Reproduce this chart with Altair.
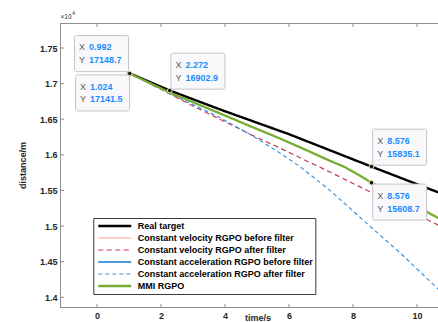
import altair as alt
import pandas as pd

# ---------------- data ----------------
series_names = [
    "Real target",
    "Constant velocity RGPO before filter",
    "Constant velocity RGPO after filter",
    "Constant acceleration RGPO before filter",
    "Constant acceleration RGPO after filter",
    "MMI RGPO",
]

real_t = [1.0, 2.272, 4.0, 6.0, 8.576, 11.0]
real_v = [17148.7, 16902.9, 16612, 16290, 15835.1, 15415]

cv_after_t = [1.0, 2.0, 2.906, 3.84, 4.78, 5.72, 6.5, 7.28, 8.22, 8.576, 9.5, 10.25, 11.0]
cv_after_v = [17148.7, 16920, 16707, 16500, 16290, 16095, 15925, 15760, 15550, 15472, 15270, 15105, 14940]

ca_after_t = [1.0, 2.28, 2.906, 3.84, 4.78, 5.72, 6.34, 7.28, 8.22, 8.59, 9.47, 10.625, 11.0]
ca_after_v = [17148.7, 16859, 16725, 16523, 16289, 16025, 15836, 15501, 15124, 14974, 14625, 14131, 13965]

mmi_t = [1.024, 2.272, 2.906, 3.84, 4.78, 5.72, 6.5, 7.28, 7.7, 8.22, 8.576, 9.5, 10.25, 11.0]
mmi_v = [17141.5, 16875, 16757, 16582, 16404, 16229, 16075, 15916, 15838, 15708, 15608.7, 15393, 15215, 15030]

x_ticks = [0, 2, 4, 6, 8, 10]
y_ticks = [14000, 14500, 15000, 15500, 16000, 16500, 17000, 17500]

tip_t = [0.992, 1.024, 2.272, 8.576, 8.576]
tip_v = [17148.7, 17141.5, 16902.9, 15835.1, 15608.7]

# ---------------- styling ----------------
colors = ["#000000", "#F2A48A", "#C23A4E", "#4A9BDD", "#3F93DB", "#77AC30"]
dashes = [[1, 0], [1, 0], [5, 3.5], [1, 0], [4, 3], [1, 0]]
widths = [2.4, 1.1, 1.2, 1.8, 1.2, 2.3]

FONT = "Liberation Sans"
W, H = 378, 284
AXC = "#8e8e8e"
TXT = "#262626"

rows = []
for name, ts, vs in [
    (series_names[0], real_t, real_v),
    (series_names[2], cv_after_t, cv_after_v),
    (series_names[4], ca_after_t, ca_after_v),
    (series_names[5], mmi_t, mmi_v),
]:
    for t, v in zip(ts, vs):
        rows.append({"series": name, "t": t, "v": v})
df_lines = pd.DataFrame(rows)

x_scale = alt.Scale(domain=[-1.156, 10.656], nice=False, zero=False)
y_scale = alt.Scale(domain=[13864, 17851], nice=False, zero=False)

x_axis = alt.Axis(
    values=x_ticks, domain=False, ticks=False, grid=False,
    labelFont=FONT, labelFontSize=9, labelFontWeight="bold", labelColor=TXT,
    labelPadding=4.5, title="time/s", titleFont=FONT, titleFontSize=9,
    titleFontWeight="bold", titleColor=TXT, titleX=197.5, titleY=10,
    titleBaseline="middle", titleAlign="center")
y_axis = alt.Axis(
    values=y_ticks, labelExpr="format(datum.value / 10000, '~g')",
    domain=False, ticks=False, grid=False,
    labelFont=FONT, labelFontSize=9, labelFontWeight="bold", labelColor=TXT,
    labelPadding=3, title="distance/m", titleFont=FONT, titleFontSize=9,
    titleFontWeight="bold", titleColor=TXT, titleX=-33, titleY=142,
    titleAngle=270, titleBaseline="bottom", titleAlign="center")

def X():
    return alt.X("t:Q", scale=x_scale, axis=x_axis, title="time/s")

def Y():
    return alt.Y("v:Q", scale=y_scale, axis=y_axis, title="distance/m")

legend = alt.Legend(
    title=None, orient="none", legendX=33.3, legendY=195, direction="vertical",
    fillColor="white", strokeColor="#3a3a3a", padding=2,
    symbolType="stroke", symbolSize=1089, symbolOffset=1.5, labelOffset=5,
    labelFont=FONT, labelFontSize=9, labelFontWeight="bold", labelColor="#000000",
    labelLimit=400, clipHeight=12, rowPadding=0, cornerRadius=0,
)

lines = alt.Chart(df_lines).mark_line(clip=True).encode(
    x=X(), y=Y(),
    color=alt.Color("series:N", scale=alt.Scale(type="ordinal", domain=series_names, range=colors), legend=legend),
    strokeDash=alt.StrokeDash("series:N", scale=alt.Scale(type="ordinal", domain=series_names, range=dashes), legend=legend),
    strokeWidth=alt.StrokeWidth("series:N", scale=alt.Scale(type="ordinal", domain=series_names, range=widths), legend=legend),
)

one = pd.DataFrame({"k": [0]})
frame_left = alt.Chart(one).mark_rule(color=AXC, strokeWidth=1).encode(
    x=alt.value(0.5), y=alt.value(0), y2=alt.value(H + 0.5))
frame_top = alt.Chart(one).mark_rule(color=AXC, strokeWidth=1).encode(
    x=alt.value(0), x2=alt.value(W), y=alt.value(0.5))
frame_bottom = alt.Chart(one).mark_rule(color=AXC, strokeWidth=1).encode(
    x=alt.value(0), x2=alt.value(W), y=alt.value(H + 0.5))

xt = pd.DataFrame({"t": x_ticks})
yt = pd.DataFrame({"v": y_ticks})
ticks_bottom = alt.Chart(xt).mark_rule(color=AXC, strokeWidth=1).encode(
    x=X(), y=alt.value(H + 0.5), y2=alt.value(H - 3))
ticks_top = alt.Chart(xt).mark_rule(color=AXC, strokeWidth=1).encode(
    x=X(), y=alt.value(0.5), y2=alt.value(4))
ticks_left = alt.Chart(yt).mark_rule(color=AXC, strokeWidth=1).encode(
    y=Y(), x=alt.value(0.5), x2=alt.value(4))

exp_base = alt.Chart(pd.DataFrame({"s": ["\u00d710"]})).mark_text(
    font=FONT, fontSize=6.5, color=TXT, align="left", baseline="middle").encode(
    text="s:N", x=alt.value(0.5), y=alt.value(-6.3))
exp_pow = alt.Chart(pd.DataFrame({"s": ["4"]})).mark_text(
    font=FONT, fontSize=5, color=TXT, align="left", baseline="middle").encode(
    text="s:N", x=alt.value(12.2), y=alt.value(-10))

BOX = ("M-1.4,-1H1.4A0.1,0.1 0 0 1 1.5,-0.9V0.9A0.1,0.1 0 0 1 1.4,1"
       "H-1.4A0.1,0.1 0 0 1 -1.5,0.9V-0.9A0.1,0.1 0 0 1 -1.4,-1Z")
tip_dir = [(-1, -1), (-1, 1), (1, -1), (1, -1), (1, 1)]

tip_layers = []
marker_layers = []
for i in range(len(tip_t)):
    d = pd.DataFrame({"t": [tip_t[i]], "v": [tip_v[i]]})
    sx, sy = tip_dir[i]
    dx = -27.2 if sx < 0 else 28.2
    dy = 19.4 * sy
    box = alt.Chart(d).mark_point(
        shape=BOX, size=1296, filled=True, fill="#f9f9fc", stroke="#c3c3cb",
        strokeWidth=1, opacity=1, fillOpacity=1, xOffset=dx, yOffset=dy).encode(x=X(), y=Y())
    left = dx - 27 + 4.5
    val = dx - 27 + 14.5
    lx = alt.Chart(d).mark_text(font=FONT, fontSize=9, color="#5a5a5a", align="left",
                                baseline="middle", xOffset=left, yOffset=dy - 6.4, text="X").encode(x=X(), y=Y())
    ly = alt.Chart(d).mark_text(font=FONT, fontSize=9, color="#5a5a5a", align="left",
                                baseline="middle", xOffset=left, yOffset=dy + 6.4, text="Y").encode(x=X(), y=Y())
    vx = alt.Chart(d).mark_text(font=FONT, fontSize=9, fontWeight="bold", color="#1a8cff",
                                align="left", baseline="middle", xOffset=val,
                                yOffset=dy - 6.4).encode(text=alt.Text("t:Q", format=".3f"), x=X(), y=Y())
    vy = alt.Chart(d).mark_text(font=FONT, fontSize=9, fontWeight="bold", color="#1a8cff",
                                align="left", baseline="middle", xOffset=val,
                                yOffset=dy + 6.4).encode(text=alt.Text("v:Q", format=".1f"), x=X(), y=Y())
    tip_layers += [box, lx, ly, vx, vy]
    marker_layers.append(alt.Chart(d).mark_point(
        shape="circle", size=22, filled=True, fill="#1a1a1a", stroke="#eeeebb",
        strokeWidth=1, opacity=1).encode(x=X(), y=Y()))

chart = alt.layer(
    lines, frame_left, frame_top, frame_bottom, ticks_bottom, ticks_top, ticks_left,
    exp_base, exp_pow, *marker_layers, *tip_layers,
).properties(
    width=W, height=H,
    autosize=alt.AutoSizeParams(type="none"),
    padding={"left": 60, "top": 23, "right": 0, "bottom": 15},
).configure_view(stroke=None)

chart.save("out.html", embed_options={"renderer": "svg", "actions": False})
